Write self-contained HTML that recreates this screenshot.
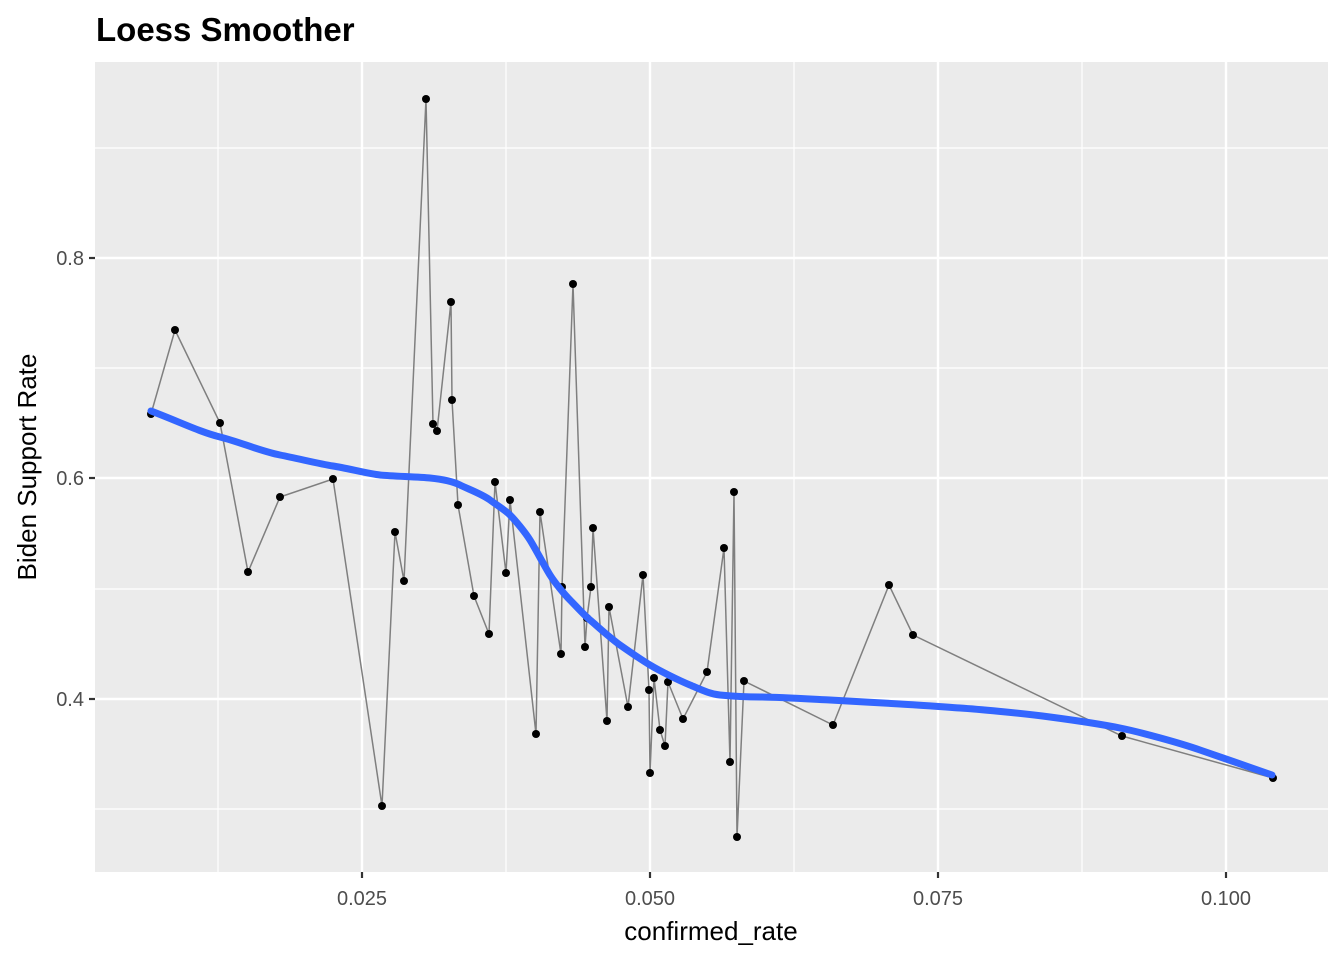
<!DOCTYPE html>
<html><head><style>body{margin:0;background:#fff}</style></head><body>
<svg width="1344" height="960" xmlns="http://www.w3.org/2000/svg" font-family="Liberation Sans, sans-serif">
<rect width="1344" height="960" fill="#fff"/>
<text x="96" y="41" font-size="33" font-weight="bold" fill="#000">Loess Smoother</text>
<rect x="95" y="62" width="1233" height="810" fill="#ebebeb"/>
<g stroke="#fff" stroke-width="1.2">
<line x1="95" x2="1328" y1="148" y2="148"/><line x1="95" x2="1328" y1="368" y2="368"/><line x1="95" x2="1328" y1="589" y2="589"/><line x1="95" x2="1328" y1="809" y2="809"/>
<line y1="62" y2="872" x1="218" x2="218"/><line y1="62" y2="872" x1="506" x2="506"/><line y1="62" y2="872" x1="794" x2="794"/><line y1="62" y2="872" x1="1082" x2="1082"/>
</g>
<g stroke="#fff" stroke-width="2.4">
<line x1="95" x2="1328" y1="258" y2="258"/><line x1="95" x2="1328" y1="478" y2="478"/><line x1="95" x2="1328" y1="699" y2="699"/>
<line y1="62" y2="872" x1="362" x2="362"/><line y1="62" y2="872" x1="650" x2="650"/><line y1="62" y2="872" x1="938" x2="938"/><line y1="62" y2="872" x1="1226" x2="1226"/>
</g>
<polyline fill="none" stroke="#7f7f7f" stroke-width="1.5" points="151,414 175,330 220,423 248,572 280,497 333,479 382,806 395,532 404,581 426,99 433,424 437,431 451,302 452,400 458,505 474,596 489,634 495,482 506,573 510,500 536,734 540,512 561,654 562,587 573,284 585,647 587,618 591,587 593,528 607,721 609,607 628,707 643,575 649,690 650,773 654,678 660,730 665,746 668,682 683,719 707,672 724,548 730,762 734,492 737,837 744,681 833,725 889,585 913,635 1122,736 1273,778"/>
<g fill="#000">
<circle cx="151" cy="414" r="4"/><circle cx="175" cy="330" r="4"/><circle cx="220" cy="423" r="4"/><circle cx="248" cy="572" r="4"/><circle cx="280" cy="497" r="4"/><circle cx="333" cy="479" r="4"/><circle cx="382" cy="806" r="4"/><circle cx="395" cy="532" r="4"/><circle cx="404" cy="581" r="4"/><circle cx="426" cy="99" r="4"/><circle cx="433" cy="424" r="4"/><circle cx="437" cy="431" r="4"/><circle cx="451" cy="302" r="4"/><circle cx="452" cy="400" r="4"/><circle cx="458" cy="505" r="4"/><circle cx="474" cy="596" r="4"/><circle cx="489" cy="634" r="4"/><circle cx="495" cy="482" r="4"/><circle cx="506" cy="573" r="4"/><circle cx="510" cy="500" r="4"/><circle cx="536" cy="734" r="4"/><circle cx="540" cy="512" r="4"/><circle cx="561" cy="654" r="4"/><circle cx="562" cy="587" r="4"/><circle cx="573" cy="284" r="4"/><circle cx="585" cy="647" r="4"/><circle cx="587" cy="618" r="4"/><circle cx="591" cy="587" r="4"/><circle cx="593" cy="528" r="4"/><circle cx="607" cy="721" r="4"/><circle cx="609" cy="607" r="4"/><circle cx="628" cy="707" r="4"/><circle cx="643" cy="575" r="4"/><circle cx="649" cy="690" r="4"/><circle cx="650" cy="773" r="4"/><circle cx="654" cy="678" r="4"/><circle cx="660" cy="730" r="4"/><circle cx="665" cy="746" r="4"/><circle cx="668" cy="682" r="4"/><circle cx="683" cy="719" r="4"/><circle cx="707" cy="672" r="4"/><circle cx="724" cy="548" r="4"/><circle cx="730" cy="762" r="4"/><circle cx="734" cy="492" r="4"/><circle cx="737" cy="837" r="4"/><circle cx="744" cy="681" r="4"/><circle cx="833" cy="725" r="4"/><circle cx="889" cy="585" r="4"/><circle cx="913" cy="635" r="4"/><circle cx="1122" cy="736" r="4"/><circle cx="1273" cy="778" r="4"/>
</g>
<path fill="none" stroke="#3366ff" stroke-width="7" stroke-linecap="round" d="M151,411 C180,422 200,432 220,437 S260,451 280,455 S320,464 333,466 S370,474 380,475 S420,477 430,478 S452,481 460,485 S482,494 490,500 S505,510 510,515 S525,532 530,540 S545,567 550,575 S565,595 570,600 S585,616 590,620 S610,638 620,645 S640,659 650,665 S678,680 690,685 S710,694 720,695 S745,697 760,697 S810,699 830,700 S880,703 900,704 S945,707 960,708 S1020,713 1050,717 S1100,724 1120,728 S1180,743 1200,750 S1255,769 1272,775"/>
<g stroke="#333" stroke-width="2.2">
<line x1="89" x2="95" y1="258" y2="258"/><line x1="89" x2="95" y1="478" y2="478"/><line x1="89" x2="95" y1="699" y2="699"/>
<line y1="872" y2="878" x1="362" x2="362"/><line y1="872" y2="878" x1="650" x2="650"/><line y1="872" y2="878" x1="938" x2="938"/><line y1="872" y2="878" x1="1226" x2="1226"/>
</g>
<g font-size="20" fill="#4d4d4d" text-anchor="end">
<text x="84" y="265">0.8</text><text x="84" y="485">0.6</text><text x="84" y="706">0.4</text>
</g>
<g font-size="20" fill="#4d4d4d" text-anchor="middle">
<text x="362" y="905">0.025</text><text x="650" y="905">0.050</text><text x="938" y="905">0.075</text><text x="1226" y="905">0.100</text>
</g>
<text x="711" y="940" font-size="26" text-anchor="middle" fill="#000">confirmed_rate</text>
<text transform="translate(36,467) rotate(-90)" font-size="26" text-anchor="middle" fill="#000">Biden Support Rate</text>
</svg>
</body></html>
